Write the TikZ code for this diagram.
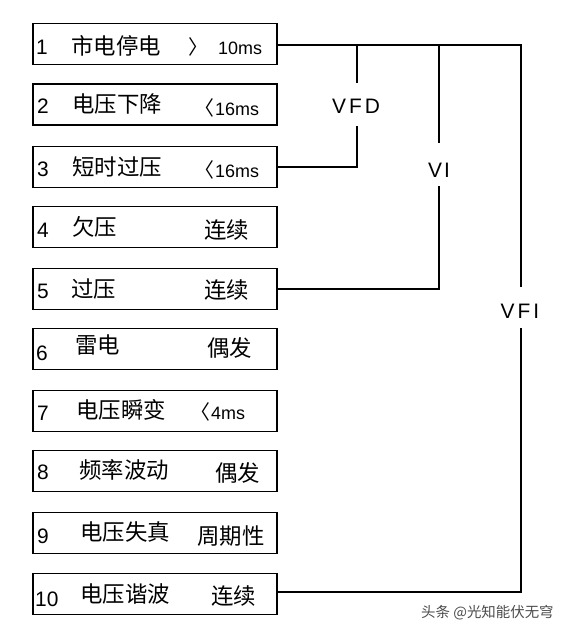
\documentclass[tikz,border=0pt]{standalone}
\usepackage{fontspec}
\setmainfont{Liberation Sans}
\newfontfamily\cjk{Noto Sans CJK SC}
\begin{document}
\begin{tikzpicture}[x=1bp,y=-1bp,
  box/.style={draw,line width=1.6bp,minimum width=244bp,minimum height=41bp,inner sep=0pt,outer sep=0pt},
  num/.style={anchor=west,inner sep=0pt,font=\fontsize{21}{21}\selectfont},
  zh/.style={anchor=west,inner sep=0pt,font=\cjk\fontsize{22.5}{22.5}\selectfont},
  ms/.style={anchor=west,inner sep=0pt,font=\fontsize{18}{18}\selectfont},
  br/.style={anchor=west,inner sep=0pt,font=\cjk\fontsize{20}{20}\selectfont},
  lab/.style={inner sep=0pt,font=\fontsize{21}{21}\selectfont},
  conn/.style={line width=1.6bp}]
\newcommand\lbr{{\cjk\fontsize{20}{20}\selectfont 〈}\hspace{1bp}}
\useasboundingbox[fill=white] (0,0) rectangle (568,634);
% boxes
\node[box] (b1) at (155,44) {};
\node[box] (b2) at (155,104.5) {};
\node[box] (b3) at (155,167) {};
\node[box] (b4) at (155,227) {};
\node[box] (b5) at (155,289) {};
\node[box] (b6) at (155,349) {};
\node[box] (b7) at (155,411) {};
\node[box] (b8) at (155,471) {};
\node[box] (b9) at (155,533) {};
\node[box] (b10) at (155,594) {};
% texts
\node[num] (n1) at (36,47) {1};
\node[zh] (t1) at (71,46) {市电停电};
\node[br] (k1) at (188,47) {〉};
\node[ms] (m1) at (218,48) {10ms};
\node[num] (n2) at (37,106) {2};
\node[zh] (t2) at (72,104) {电压下降};
\node[ms] (m2) at (194,108) {\lbr 16ms};
\node[num] (n3) at (37,169) {3};
\node[zh] (t3) at (72,167) {短时过压};
\node[ms] (m3) at (194,170) {\lbr 16ms};
\node[num] (n4) at (37,230) {4};
\node[zh] (t4) at (72,227) {欠压};
\node[zh] (r4) at (204,230) {连续};
\node[num] (n5) at (37,291) {5};
\node[zh] (t5) at (71,289) {过压};
\node[zh] (r5) at (204,290) {连续};
\node[num] (n6) at (36,353) {6};
\node[zh] (t6) at (75,345) {雷电};
\node[zh] (r6) at (207,348) {偶发};
\node[num] (n7) at (37,413) {7};
\node[zh] (t7) at (76,410) {电压瞬变};
\node[ms] (m7) at (190,412) {\lbr 4ms};
\node[num] (n8) at (37,472) {8};
\node[zh] (t8) at (79,470) {频率波动};
\node[zh] (r8) at (215,473) {偶发};
\node[num] (n9) at (37,536) {9};
\node[zh] (t9) at (80,532) {电压失真};
\node[zh] (r9) at (197,536) {周期性};
\node[num] (n10) at (35,599) {10};
\node[zh] (t10) at (80,594) {电压谐波};
\node[zh] (r10) at (211,596) {连续};
% labels
\node[lab] (vfd) at (356,106) {V\hspace{3bp}F\hspace{3bp}D};
\node[lab] (vi) at (439,170) {V\hspace{2bp}I};
\node[lab] (vfi) at (520,311) {V\hspace{3bp}F\hspace{3bp}I};
% connector coordinates
\coordinate (c1) at (357,45);
\coordinate (c2) at (439,45);
\coordinate (c3) at (521,45);
% connectors
\draw[conn] (b1.east |- c1) -- (c3) -- (c3 |- 0,287);
\draw[conn] (c1) -- (357,83);
\draw[conn] (357,126) -- (357,167) -- (b3.east |- 0,167);
\draw[conn] (c2) -- (439,143);
\draw[conn] (439,186) -- (439,289) -- (b5.east |- 0,289);
\draw[conn] (521,328) -- (521,592) -- (b10.east |- 0,592);
% watermark
\node[inner sep=0pt,anchor=west,text=black!70,font=\cjk\fontsize{14.5}{14.5}\selectfont] (wm) at (421,613) {头条 @光知能伏无穹};
\end{tikzpicture}
\end{document}
